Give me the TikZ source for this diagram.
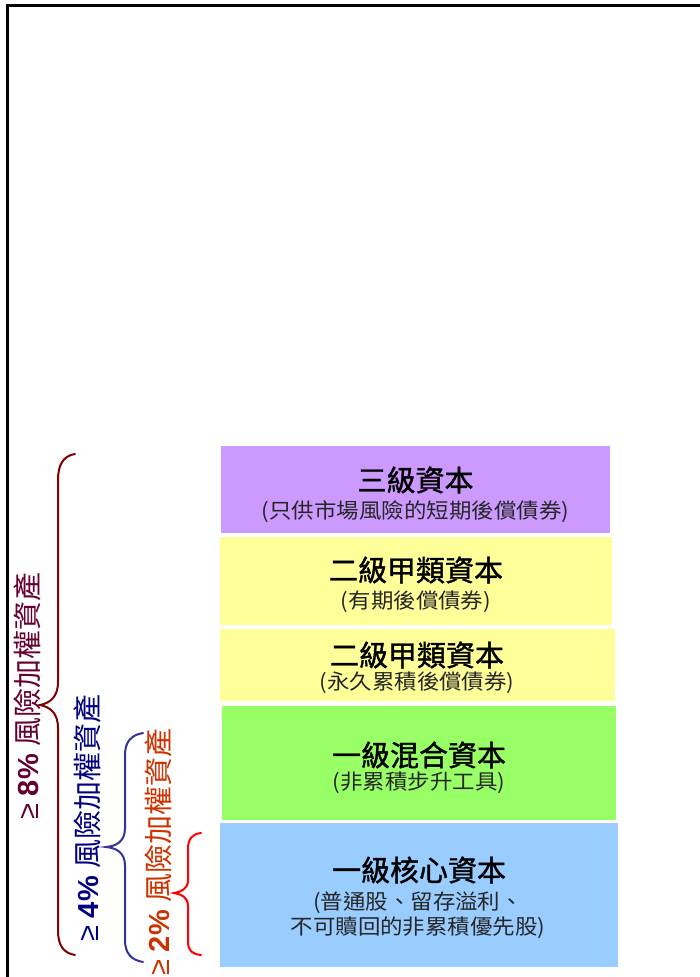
\documentclass[tikz,border=0pt]{standalone}
\usepackage{fontspec}
\setmainfont{Liberation Sans}
\newfontfamily\cjk{Noto Sans CJK TC}
\newfontfamily\cjktitle[FakeBold=1.3]{Noto Sans CJK TC}
\newfontfamily\cjksub[FakeStretch=1.07]{Noto Sans CJK TC}
\definecolor{fillpurple}{HTML}{CC99FF}
\definecolor{fillyellow}{HTML}{FFFF99}
\definecolor{fillgreen}{HTML}{99FF66}
\definecolor{fillblue}{HTML}{99CCFF}
\definecolor{txteight}{HTML}{660033}
\definecolor{braceeight}{HTML}{800000}
\definecolor{txtfour}{HTML}{000080}
\definecolor{bracefour}{HTML}{333399}
\definecolor{txttwo}{HTML}{CC3300}
\definecolor{bracetwo}{HTML}{FF0000}
\definecolor{subgray}{HTML}{262626}
\tikzset{
  tierbox/.style={draw=none, anchor=north west, inner sep=0pt},
  tiertitle/.style={font=\cjktitle\fontsize{29}{32}\selectfont, inner sep=0pt, text=black},
  tiersub/.style={font=\cjksub\fontsize{21}{26}\selectfont, inner sep=0pt, text=subgray, align=center},
  bracestyle/.style={line width=2pt, line cap=round},
  sidelabel/.style={rotate=90, inner sep=0pt, font=\fontsize{29}{32}\selectfont}
}
\begin{document}
\begin{tikzpicture}[x=1pt,y=-1pt]
\useasboundingbox (0,0) rectangle (699,977);
\draw[line width=3pt] (7.5,980) -- (7.5,5.5) -- (702,5.5);

% tier boxes
\node[tierbox, fill=fillpurple, minimum width=389, minimum height=87] (b3) at (221,446) {};
\node[tierbox, fill=fillyellow, minimum width=392, minimum height=88] (b2a) at (220,537) {};
\node[tierbox, fill=fillyellow, minimum width=395, minimum height=72] (b2b) at (220,629) {};
\node[tierbox, fill=fillgreen, minimum width=394, minimum height=114] (b1h) at (222,706) {};
\node[tierbox, fill=fillblue, minimum width=398, minimum height=144] (b1c) at (220,823) {};

% texts
\node[tiertitle] (t3) at (415.5,480) {三級資本};
\node[tiersub] (s3) at (415.5,512) {(只供市場風險的短期後償債券)};
\node[tiertitle] (t2a) at (416,570) {二級甲類資本};
\node[tiersub] (s2a) at (416,602) {(有期後償債券)};
\node[tiertitle] (t2b) at (417,655) {二級甲類資本};
\node[tiersub] (s2b) at (417,683) {(永久累積後償債券)};
\node[tiertitle] (t1h) at (419,755) {一級混合資本};
\node[tiersub] (s1h) at (419,783) {(非累積步升工具)};
\node[tiertitle] (t1c) at (419,870) {一級核心資本};
\node[tiersub] (s1c) at (418,915) {(普通股、留存溢利、\\[-1pt]不可贖回的非累積優先股)};

% braces
\draw[bracestyle, braceeight] (75,454) .. controls (63,456) and (58,465) .. (58,480) -- (58,682)
  .. controls (58,697) and (50,703) .. (40,705) .. controls (50,707) and (58,713) .. (58,728)
  -- (58,930) .. controls (58,945) and (63,953) .. (75,955);
\draw[bracestyle, bracefour] (143,733) .. controls (131,735) and (125,742) .. (125,755) -- (125,828)
  .. controls (125,842) and (116,846) .. (106,847) .. controls (116,848) and (125,852) .. (125,866)
  -- (125,940) .. controls (125,953) and (131,960) .. (143,962);
\draw[bracestyle, bracetwo] (201,833) .. controls (192,834) and (188,839) .. (188,849) -- (188,880)
  .. controls (188,889) and (181,892) .. (174,893) .. controls (181,894) and (188,897) .. (188,906)
  -- (188,941) .. controls (188,951) and (192,954) .. (201,955);

% side labels
\node[sidelabel, text=txteight] (l8) at (27,696) {≥ \textbf{8\%} {\cjk 風險加權資產}};
\node[sidelabel, text=txtfour] (l4) at (87,818) {≥ \textbf{4\%} {\cjk 風險加權資產}};
\node[sidelabel, text=txttwo] (l2) at (158,852) {≥ \textbf{2\%} {\cjk 風險加權資產}};
\end{tikzpicture}
\end{document}
